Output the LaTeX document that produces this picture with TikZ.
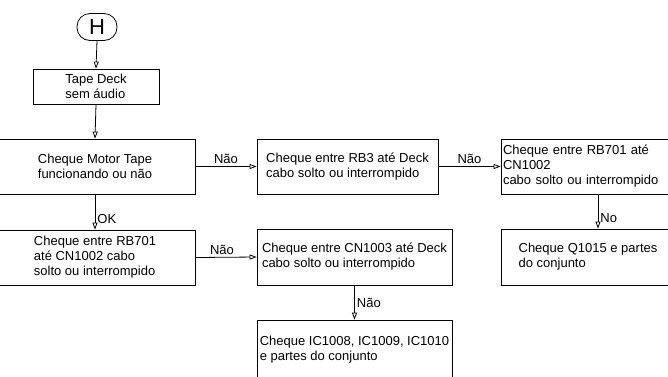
\documentclass[tikz,border=0pt]{standalone}
\usepackage{fontspec}
\setmainfont{Liberation Sans}
\usepackage{tikz}
\usetikzlibrary{arrows.meta,positioning}

\begin{document}
\begin{tikzpicture}[
      x=1pt, y=-1pt,
      arr/.style={-{Triangle[open,length=7pt,width=5pt]}, line width=0.8pt},
      term/.style={draw, line width=0.8pt, rounded corners=13pt,
                   minimum width=40pt, minimum height=27pt, inner sep=0pt,
                   font=\fontsize{22}{24}\selectfont},
      box/.style={draw, line width=0.8pt, align=left, inner sep=2pt,
                  font=\fontsize{13}{15}\selectfont},
      lbl/.style={font=\fontsize{13}{14}\selectfont, inner sep=2pt},
    ]
    \useasboundingbox (0,0) rectangle (668,376);
    \clip (0,0) rectangle (668,376);

    \node[term] (h) at (97,27) {H};
    \node[box, minimum width=126pt, minimum height=35pt] (s1) at (96,86.5) {Tape Deck\\sem áudio};

    \node[box, minimum width=200pt, minimum height=55pt] (s2) at (95,166.5) {Cheque Motor Tape\\funcionando ou não};
    \node[box, minimum width=181pt, minimum height=55pt] (s3) at (347.5,166.5) {Cheque entre RB3 até Deck\\cabo solto ou interrompido};
    \node[box, text width=170pt, minimum height=55pt] (s4) at (588,166.5) {Cheque entre RB701 até\\CN1002\\cabo solto ou interrompido};

    \node[box, minimum width=200pt, minimum height=55pt] (s5) at (95,257.5) {Cheque entre RB701\\até CN1002 cabo\\solto ou interrompido};
    \node[box, minimum width=195pt, minimum height=56pt] (s6) at (354.5,257) {Cheque entre CN1003 até Deck\\cabo solto ou interrompido};
    \node[box, minimum width=174pt, minimum height=56pt] (s7) at (588,257) {Cheque Q1015 e partes\\do conjunto};

    \node[box, minimum width=195pt, minimum height=60pt] (s8) at (354.5,350) {Cheque IC1008, IC1009, IC1010\\e partes do conjunto};

    \draw[arr] (h.south) -- (s1.north);
    \draw[arr] (s1.south) -- (s2.north);
    \draw[arr] (s2.east) -- node[lbl, above] {Não} (s3.west);
    \draw[arr] (s3.east) -- node[lbl, above] {Não} (s4.west);
    \draw[arr] ([xshift=10pt]s4.south) -- node[lbl, right, pos=0.7] {No} ([xshift=10pt]s7.north);
    \draw[arr] (s2.south) -- node[lbl, right, pos=0.7] {OK} (s5.north);
    \draw[arr] (s5.east) -- node[lbl, above, xshift=-4pt] {Não} (s6.west);
    \draw[arr] (s6.south) -- node[lbl, right] {Não} (s8.north);
  \end{tikzpicture}
\end{document}
